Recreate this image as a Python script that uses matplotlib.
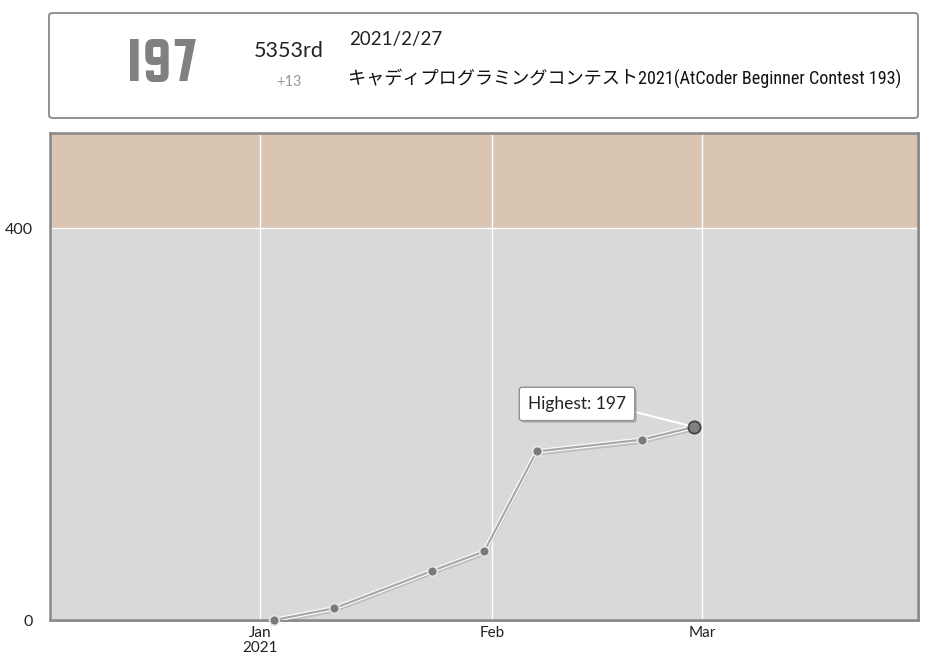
import matplotlib
matplotlib.use("Agg")
import matplotlib.pyplot as plt
import matplotlib.dates as mdates
import matplotlib.patheffects as pe
from matplotlib import font_manager
from matplotlib.patches import FancyBboxPatch, Rectangle
import datetime as dt

# contest history (end times) and ratings
dates = ["2021-01-02 22:40", "2021-01-10 22:40", "2021-01-23 22:40",
         "2021-01-30 22:40", "2021-02-06 22:40", "2021-02-20 22:40",
         "2021-02-27 22:40"]
ratings = [0, 12, 50, 70, 172, 184, 197]
month_ticks = ["2021-01-01", "2021-02-01", "2021-03-01"]
month_labels = ["Jan\n2021", "Feb", "Mar"]
y_ticks = [0, 400]

rating_now = "197"
rank = "5353rd"
diff = "+13"
contest_date = "2021/2/27"
contest_name = "キャディプログラミングコンテスト2021(AtCoder Beginner Contest 193)"
highest_label = "Highest: 197"

installed = {f.name for f in font_manager.fontManager.ttflist}

def pick(*prefs):
    for p in prefs:
        if p in installed:
            return p
    return "DejaVu Sans"

big_font = pick("Squada One", "Barlow Condensed", "Fira Sans Extra Condensed")
narrow_font = pick("Roboto Condensed", "Fira Sans Condensed", "Archivo Narrow",
                   "Barlow Semi Condensed")

W, H = 932, 665
fig = plt.figure(figsize=(W / 100, H / 100), dpi=100)

def px(x0, y0, x1, y1):
    # pixel box (top-left origin) -> figure fraction rect
    return [x0 / W, 1 - y1 / H, (x1 - x0) / W, (y1 - y0) / H]

# header card
hb = px(49, 13, 918, 118)
fig.patches.append(FancyBboxPatch((hb[0], hb[1]), hb[2], hb[3],
                                  boxstyle="round,pad=0,rounding_size=0.004",
                                  transform=fig.transFigure, fc="white",
                                  ec="#8a8a8a", lw=1.3))

fig.text(162 / W, 1 - 66 / H, rating_now, fontsize=46, fontweight="bold",
         family=big_font, color="#808080", ha="center", va="center")
fig.text(289 / W, 1 - 51 / H, rank, fontsize=15.5, family="Lato",
         color="#222222", ha="center", va="center")
fig.text(289 / W, 1 - 82 / H, diff, fontsize=10.5, family="Lato",
         color="#999999", ha="center", va="center")
fig.text(349 / W, 1 - 39 / H, contest_date, fontsize=13.5, family="Lato",
         color="#222222", ha="left", va="center")
fig.text(348 / W, 1 - 78 / H, contest_name, fontsize=13.1,
         family=[narrow_font, "Noto Sans CJK JP"], color="#111111",
         ha="left", va="center")

# chart
ax = fig.add_axes(px(50, 133, 918, 620))
ax.set_zorder(2)
ab = px(51, 135, 920, 622)
fig.patches.append(Rectangle((ab[0], ab[1]), ab[2], ab[3],
                             transform=fig.transFigure, fc="#b8b8b8",
                             ec="none", zorder=0))

x = mdates.datestr2num(dates)
xmin = mdates.date2num(dt.datetime(2020, 12, 4))
xmax = mdates.date2num(dt.datetime(2021, 3, 29, 20))
ymax = 497
ax.set_xlim(xmin, xmax)
ax.set_ylim(0, ymax)

ax.axhspan(0, 400, color="#d9d9d9", lw=0, zorder=0)
ax.axhspan(400, ymax, color="#d9c5b2", lw=0, zorder=0)
ax.axhline(400, color="white", lw=1, zorder=1)
for m in mdates.datestr2num(month_ticks):
    ax.axvline(m, color="white", lw=1, zorder=1)

# line with a soft shadow and white rim
ax.plot(x, [r - 2.5 for r in ratings], color="#b8b8b8", lw=2.5, zorder=2,
        alpha=0.8)
ax.plot(x, ratings, color="white", lw=3.2, zorder=3)
ax.plot(x, ratings, color="#a8a8a8", lw=1.6, zorder=4)
ax.plot(x[:-1], ratings[:-1], "o", ms=7, mfc="#7a7a7a", mec="#e6e6e6",
        mew=1.2, zorder=5, clip_on=False)
ax.plot(x[-1:], ratings[-1:], "o", ms=8.8, mfc="#808080", mec="#444444",
        mew=1.3, zorder=6, clip_on=False)

ann = ax.annotate(highest_label, xy=(x[-1], ratings[-1]),
                  xytext=(-117 * 0.72, 23 * 0.72), textcoords="offset points",
                  ha="center", va="center", fontsize=12.5, family="Lato",
                  color="#222222", zorder=7,
                  bbox=dict(boxstyle="round,pad=0.5,rounding_size=0.15",
                            fc="white", ec="#8f8f8f", lw=1),
                  arrowprops=dict(arrowstyle="-", color="white", lw=1.5,
                                  relpos=(1.0, 0.15), shrinkA=0, shrinkB=5))
ann.get_bbox_patch().set_path_effects(
    [pe.SimplePatchShadow(offset=(1.5, -1.5), shadow_rgbFace="#999999",
                          alpha=0.6), pe.Normal()])

ax.set_xticks(mdates.datestr2num(month_ticks))
ax.set_xticklabels(month_labels, family="Lato", fontsize=11, color="#222222",
                   linespacing=1.1)
ax.set_yticks(y_ticks)
ax.set_yticklabels([str(v) for v in y_ticks], family="Lato", fontsize=11.5,
                   color="#222222")
ax.tick_params(length=0, pad=4)
ax.tick_params(axis="y", pad=12)
for s in ax.spines.values():
    s.set_color("#888888")
    s.set_linewidth(1.8)

fig.savefig("out.png", dpi=100)
